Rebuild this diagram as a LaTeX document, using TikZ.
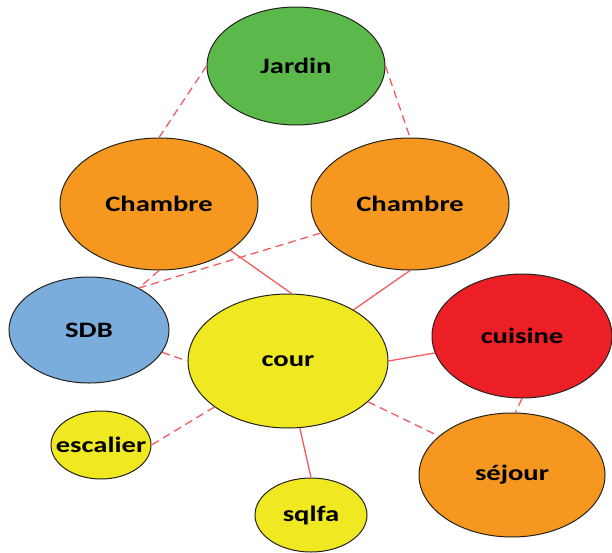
\documentclass[tikz,border=0pt]{standalone}
\usepackage{graphicx}
\usepackage{fontspec}
\setmainfont{Carlito}
\usepackage{tikz}
\usetikzlibrary{shapes.geometric}

\definecolor{vertJ}{RGB}{90,185,74}
\definecolor{orangeC}{RGB}{246,151,31}
\definecolor{bleuS}{RGB}{122,172,220}
\definecolor{rougeC}{RGB}{236,30,38}
\definecolor{jauneC}{RGB}{240,232,32}
\definecolor{trait}{RGB}{240,92,96}
\definecolor{bord}{RGB}{35,35,30}

\newcommand{\etiq}[1]{\makebox[0pt]{\scalebox{1.3}[1]{\fontsize{22}{24}\selectfont\bfseries #1}}}

\tikzset{
  piece/.style={ellipse, draw=bord, line width=1pt, inner sep=0pt},
  lien/.style={trait, line width=1.3pt},
  lienpt/.style={trait, line width=1.3pt, dash pattern=on 8pt off 5pt}
}

\begin{document}
\begin{tikzpicture}[x=1pt, y=-1pt]
\useasboundingbox (0,0) rectangle (612,552);

% Pieces
\node[piece, fill=vertJ, minimum width=178pt, minimum height=118pt] (jardin) at (296,66) {\etiq{Jardin}};
\node[piece, fill=orangeC, minimum width=198pt, minimum height=132pt] (chambreG) at (159,204) {\etiq{Chambre}};
\node[piece, fill=orangeC, minimum width=198pt, minimum height=132pt] (chambreD) at (410,204) {\etiq{Chambre}};
\node[piece, fill=bleuS, minimum width=160pt, minimum height=106pt] (sdb) at (89,330) {\etiq{SDB}};
\node[piece, fill=jauneC, minimum width=200pt, minimum height=134pt] (cour) at (288,361) {\etiq{cour}};
\node[piece, fill=rougeC, minimum width=180pt, minimum height=124pt] (cuisine) at (522,336) {\etiq{cuisine}};
\node[piece, fill=orangeC, minimum width=186pt, minimum height=124pt] (sejour) at (512,475) {\etiq{séjour}};
\node[piece, fill=jauneC, minimum width=100pt, minimum height=68pt] (escalier) at (101,445) {\etiq{escalier}};
\node[piece, fill=jauneC, minimum width=112pt, minimum height=74pt] (sqlfa) at (311,515) {\etiq{sqlfa}};

% Liens en pointilles
\draw[lienpt] (jardin.west) -- (chambreG.north);
\draw[lienpt] (jardin.east) -- (chambreD.north);
\draw[lienpt] (chambreG.south) -- (sdb.40);
\draw[lienpt] (chambreD.198) -- (sdb.40);
\draw[lienpt] (sdb.-17) -- (cour.west);
\draw[lienpt] (cuisine.south) -- (sejour.87);
\draw[lienpt] (cour.-27) -- (sejour.152);
\draw[lienpt] (cour.212) -- (escalier.east);

% Liens pleins
\draw[lien] (chambreG.-33) -- (cour.87);
\draw[lien] (chambreD.south) -- (cour.38);
\draw[lien] (cour.east) -- (cuisine.191);
\draw[lien] (cour.-80) -- (sqlfa.north);
\end{tikzpicture}
\end{document}
